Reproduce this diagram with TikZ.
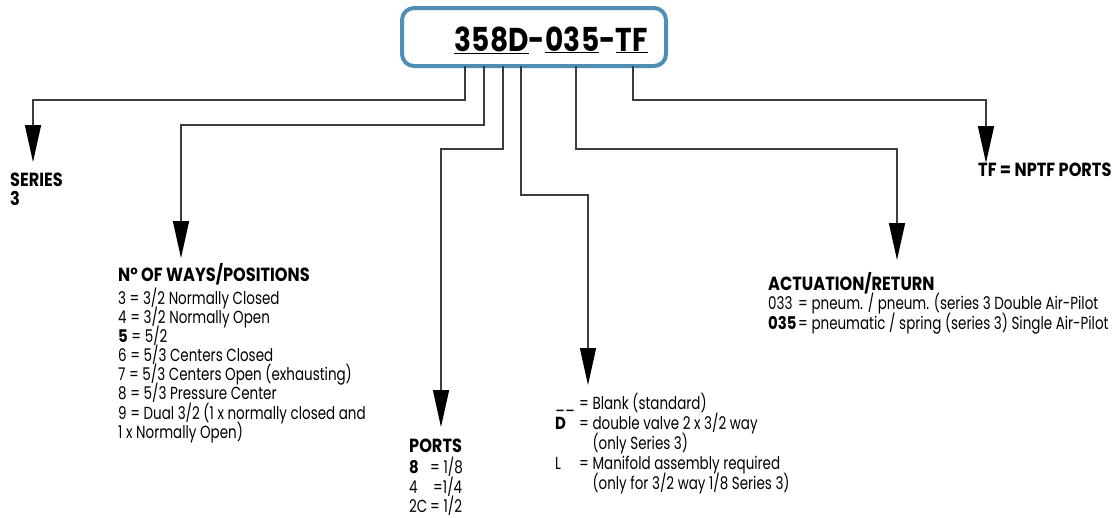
\documentclass[tikz,border=0pt]{standalone}
\usepackage{fontspec}
\setmainfont{Poppins}[FakeStretch=0.77, BoldFeatures={FakeStretch=0.85}]
\usetikzlibrary{arrows.meta}

\definecolor{boxblue}{HTML}{4F8FB6}
\definecolor{wire}{HTML}{3C3C3C}

\newcommand{\hd}[1]{{\fontsize{19}{19.2}\selectfont\bfseries #1}}
% lines at a fixed pitch: \stack{pitch}{rows}, \keyed{pitch}{key width}{rows}
\newcommand{\stack}[2]{\vtop{\baselineskip=#1\lineskiplimit=-100pt\lineskip=0pt
  \halign{##\hfil\cr#2\crcr}}}
\newcommand{\keyed}[3]{\vtop{\baselineskip=#1\lineskiplimit=-100pt\lineskip=0pt
  \halign{\hbox to #2{##\hfil}&##\hfil\cr#3\crcr}}}

\tikzset{
  lead/.style={draw=wire, line width=1.5pt},
  pointer/.style={lead, -{Triangle[length=37pt,width=16pt,fill=black,color=black]}},
  block/.style={anchor=base west, inner sep=0pt, font=\fontsize{17.5}{19.2}\selectfont},
}

\begin{document}
\begin{tikzpicture}[x=1pt,y=-1pt]
  \useasboundingbox (0,0) rectangle (1116,517);

  % ordering code
  \draw[boxblue, line width=4pt, rounded corners=12pt] (402,8) rectangle (666,66);
  \node (code) at (551,40)
    {\fontsize{33}{36}\selectfont\bfseries\addfontfeature{LetterSpace=1}%
     \underline{358D}-\underline{035}-\underline{TF}};

  \coordinate (p1) at (465,66);
  \coordinate (p2) at (484,66);
  \coordinate (p3) at (503,66);
  \coordinate (p4) at (521,66);
  \coordinate (p5) at (576,66);
  \coordinate (p6) at (633,66);

  \coordinate (t1) at (33,162);
  \coordinate (t2) at (181,258);
  \coordinate (t3) at (441,427);
  \coordinate (t4) at (588,385);
  \coordinate (t5) at (897,260);
  \coordinate (t6) at (986,163);

  \draw[pointer] (p1) -- ++(0,34) -| (t1);
  \draw[pointer] (p2) -- ++(0,59) -| (t2);
  \draw[pointer] (p3) -- ++(0,83) -| (t3);
  \draw[pointer] (p4) -- ++(0,129) -| (t4);
  \draw[pointer] (p5) -- ++(0,83) -| (t5);
  \draw[pointer] (p6) -- ++(0,34) -| (t6);

  % legends
  \node[block] (series) at (10,186) {\stack{19pt}{\hd{SERIES}\cr \hd{3}}};

  \node[block] (ways) at (118,281)
    {\stack{19.15pt}{%
      \hd{N° OF WAYS/POSITIONS}\cr\noalign{\vskip4pt}
      3 = 3/2 Normally Closed\cr
      4 = 3/2 Normally Open\cr
      \textbf{5} = 5/2\cr
      6 = 5/3 Centers Closed\cr
      7 = 5/3 Centers Open (exhausting)\cr
      8 = 5/3 Pressure Center\cr
      9 = Dual 3/2 (1 x normally closed and\cr
      1 x Normally Open)}};

  \node[block] (ports) at (409,452)
    {\keyed{19.6pt}{21pt}{%
      \rlap{\hd{PORTS}}&\cr\noalign{\vskip2pt}
      \textbf{8} & = 1/8\cr
      4 & \hspace{3pt}=1/4\cr
      2C & = 1/2}};

  \node[block] (valve) at (555,409)
    {\keyed{20pt}{24pt}{%
      \_\_ & = Blank (standard)\cr
      \textbf{D} & = double valve 2 x 3/2 way\cr
       & \hphantom{=} (only Series 3)\cr
      L & = Manifold assembly required\cr
       & \hphantom{=} (only for 3/2 way 1/8 Series 3)}};

  \node[block] (act) at (768,290)
    {\keyed{19.8pt}{30pt}{%
      \rlap{\hd{ACTUATION/RETURN}}&\cr
      033 & = pneum. / pneum. (series 3 Double Air-Pilot\cr
      \textbf{035} & = pneumatic / spring (series 3) Single Air-Pilot}};

  \node[block] (tf) at (978,176) {\hd{TF = NPTF PORTS}};
\end{tikzpicture}
\end{document}
